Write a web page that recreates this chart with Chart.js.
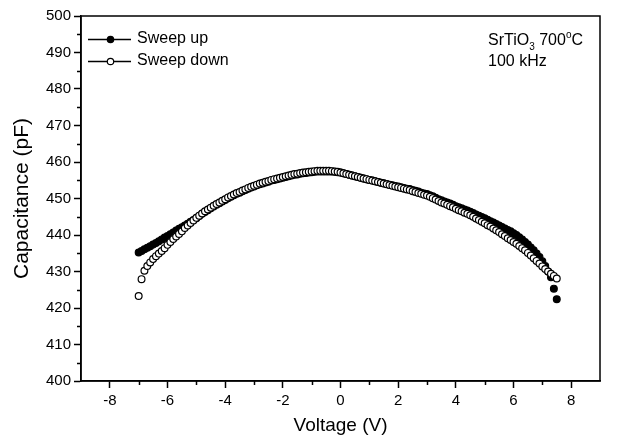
<!DOCTYPE html>
<html>
<head>
<meta charset="utf-8">
<script src="https://cdn.jsdelivr.net/npm/chart.js@4.4.1/dist/chart.umd.min.js"></script>
<style>
  html, body { margin: 0; padding: 0; background: #fff; }
  #wrap { width: 622px; height: 443px; }
</style>
</head>
<body>
<div id="wrap"><canvas id="cvChart"></canvas></div>
<script>
// voltage steps (V)
var voltage = [
  -7.0, -6.9, -6.8, -6.7, -6.6, -6.5, -6.4, -6.3, -6.2, -6.1,
  -6.0, -5.9, -5.8, -5.7, -5.6, -5.5, -5.4, -5.3, -5.2, -5.1,
  -5.0, -4.9, -4.8, -4.7, -4.6, -4.5, -4.4, -4.3, -4.2, -4.1,
  -4.0, -3.9, -3.8, -3.7, -3.6, -3.5, -3.4, -3.3, -3.2, -3.1,
  -3.0, -2.9, -2.8, -2.7, -2.6, -2.5, -2.4, -2.3, -2.2, -2.1,
  -2.0, -1.9, -1.8, -1.7, -1.6, -1.5, -1.4, -1.3, -1.2, -1.1,
  -1.0, -0.9, -0.8, -0.7, -0.6, -0.5, -0.4, -0.3, -0.2, -0.1,
  0.0, 0.1, 0.2, 0.3, 0.4, 0.5, 0.6, 0.7, 0.8, 0.9,
  1.0, 1.1, 1.2, 1.3, 1.4, 1.5, 1.6, 1.7, 1.8, 1.9,
  2.0, 2.1, 2.2, 2.3, 2.4, 2.5, 2.6, 2.7, 2.8, 2.9,
  3.0, 3.1, 3.2, 3.3, 3.4, 3.5, 3.6, 3.7, 3.8, 3.9,
  4.0, 4.1, 4.2, 4.3, 4.4, 4.5, 4.6, 4.7, 4.8, 4.9,
  5.0, 5.1, 5.2, 5.3, 5.4, 5.5, 5.6, 5.7, 5.8, 5.9,
  6.0, 6.1, 6.2, 6.3, 6.4, 6.5, 6.6, 6.7, 6.8, 6.9,
  7.0, 7.1, 7.2, 7.3, 7.4, 7.5
];

// capacitance (pF), filled markers
var sweepUp = [
  435.2, 435.6, 436.1, 436.5, 436.9, 437.4, 437.8, 438.3, 438.8, 439.3,
  439.7, 440.2, 440.7, 441.2, 441.7, 442.1, 442.6, 443.1, 443.6, 444.1,
  444.6, 445.2, 445.8, 446.3, 446.8, 447.3, 447.8, 448.3, 448.7, 449.2,
  449.6, 450.1, 450.5, 450.9, 451.3, 451.6, 452.0, 452.3, 452.7, 453.0,
  453.3, 453.6, 453.9, 454.1, 454.4, 454.6, 454.9, 455.1, 455.3, 455.5,
  455.7, 455.9, 456.1, 456.3, 456.5, 456.6, 456.8, 456.9, 457.0, 457.1,
  457.2, 457.3, 457.4, 457.4, 457.4, 457.4, 457.4, 457.4, 457.3, 457.2,
  457.1, 456.9, 456.7, 456.5, 456.3, 456.1, 455.9, 455.7, 455.5, 455.3,
  455.1, 454.9, 454.7, 454.5, 454.3, 454.2, 454.0, 453.8, 453.6, 453.4,
  453.3, 453.1, 452.9, 452.7, 452.6, 452.3, 452.1, 451.9, 451.6, 451.4,
  451.2, 450.9, 450.6, 450.2, 449.8, 449.5, 449.2, 448.9, 448.6, 448.3,
  447.9, 447.6, 447.3, 447.0, 446.7, 446.4, 446.0, 445.6, 445.3, 444.9,
  444.6, 444.2, 443.8, 443.4, 443.0, 442.6, 442.2, 441.8, 441.4, 441.0,
  440.5, 440.0, 439.4, 438.8, 438.1, 437.4, 436.6, 435.8, 434.9, 434.0,
  432.8, 431.5, 430.0, 428.4, 425.3, 422.4
];

// capacitance (pF), open markers
var sweepDown = [
  423.3, 427.9, 430.2, 431.5, 432.5, 433.4, 434.2, 434.9, 435.6, 436.4,
  437.3, 438.1, 438.9, 439.6, 440.3, 441.0, 441.9, 442.6, 443.3, 444.0,
  444.7, 445.3, 445.9, 446.5, 447.0, 447.5, 448.0, 448.5, 448.9, 449.4,
  449.8, 450.3, 450.7, 451.1, 451.5, 451.8, 452.2, 452.5, 452.9, 453.2,
  453.5, 453.8, 454.1, 454.3, 454.6, 454.8, 455.1, 455.3, 455.5, 455.7,
  455.9, 456.1, 456.3, 456.5, 456.7, 456.8, 457.0, 457.1, 457.2, 457.3,
  457.4, 457.5, 457.6, 457.6, 457.6, 457.6, 457.6, 457.5, 457.4, 457.3,
  457.1, 456.9, 456.7, 456.5, 456.3, 456.1, 455.9, 455.7, 455.5, 455.3,
  455.1, 454.9, 454.7, 454.5, 454.3, 454.1, 453.9, 453.7, 453.5, 453.3,
  453.1, 452.9, 452.7, 452.5, 452.3, 452.0, 451.8, 451.5, 451.3, 451.0,
  450.8, 450.5, 450.1, 449.7, 449.3, 448.9, 448.6, 448.3, 447.9, 447.6,
  447.2, 446.8, 446.5, 446.1, 445.8, 445.4, 445.0, 444.5, 444.1, 443.6,
  443.2, 442.7, 442.3, 441.8, 441.3, 440.8, 440.2, 439.7, 439.1, 438.6,
  438.1, 437.6, 437.0, 436.4, 435.8, 435.1, 434.4, 433.6, 432.9, 432.2,
  431.4, 430.7, 430.0, 429.4, 428.8, 428.1
];

var xTicks = [-8, -6, -4, -2, 0, 2, 4, 6, 8];
var xMinor = [-7, -5, -3, -1, 1, 3, 5, 7];
var yTicks = [400, 410, 420, 430, 440, 450, 460, 470, 480, 490, 500];
var yMinor = [405, 415, 425, 435, 445, 455, 465, 475, 485, 495];

var FONT = 'Arial, "Liberation Sans", Helvetica, sans-serif';

function pairs(ys) {
  return voltage.map(function (v, i) { return { x: v, y: ys[i] }; });
}

// frame, minor ticks, legend and the sample note
var extras = {
  id: 'extras',
  afterDraw: function (chart) {
    var c = chart.ctx, a = chart.chartArea;
    var xs = chart.scales.x, ys = chart.scales.y;
    c.save();
    c.strokeStyle = '#000';
    c.lineWidth = 1.5;
    c.strokeRect(a.left, a.top, a.right - a.left, a.bottom - a.top);

    c.lineWidth = 1.5;
    c.beginPath();
    xMinor.forEach(function (v) {
      var px = Math.round(xs.getPixelForValue(v)) + 0.5;
      c.moveTo(px, a.bottom);
      c.lineTo(px, a.bottom + 4);
    });
    yMinor.forEach(function (v) {
      var py = Math.round(ys.getPixelForValue(v)) + 0.5;
      c.moveTo(a.left, py);
      c.lineTo(a.left - 4, py);
    });
    c.stroke();

    // legend
    var rows = [
      { label: 'Sweep up', fill: '#000', y: 39 },
      { label: 'Sweep down', fill: '#fff', y: 61 }
    ];
    rows.forEach(function (r) {
      c.lineWidth = 1.3;
      c.beginPath();
      c.moveTo(88, r.y + 0.5);
      c.lineTo(131, r.y + 0.5);
      c.stroke();
      c.beginPath();
      c.arc(110.5, r.y + 0.5, 3.2, 0, Math.PI * 2);
      c.fillStyle = r.fill;
      c.fill();
      c.lineWidth = 1.2;
      c.stroke();
      c.fillStyle = '#000';
      c.font = '16px ' + FONT;
      c.textBaseline = 'middle';
      c.textAlign = 'left';
      c.fillText(r.label, 137, r.y);
    });

    // note
    c.font = '16px ' + FONT;
    c.textBaseline = 'middle';
    var x0 = 488, y0 = 41;
    c.fillText('SrTiO', x0, y0);
    var w = c.measureText('SrTiO').width;
    c.font = '10px ' + FONT;
    c.fillText('3', x0 + w, y0 + 6);
    var w2 = c.measureText('3').width;
    c.font = '16px ' + FONT;
    c.fillText(' 700', x0 + w + w2, y0);
    var w3 = c.measureText(' 700').width;
    c.font = '10px ' + FONT;
    c.fillText('o', x0 + w + w2 + w3, y0 - 6);
    var w4 = c.measureText('o').width;
    c.font = '16px ' + FONT;
    c.fillText('C', x0 + w + w2 + w3 + w4, y0);
    c.fillText('100 kHz', x0, 62);
    c.restore();
  }
};

var ctx = document.getElementById('cvChart').getContext('2d');

var data = {
  datasets: [
    {
      label: 'Sweep down',
      data: pairs(sweepDown),
      showLine: false,
      pointRadius: 3.4,
      pointBorderWidth: 1.2,
      pointBackgroundColor: '#fff',
      pointBorderColor: '#000',
      order: 0
    },
    {
      label: 'Sweep up',
      data: pairs(sweepUp),
      showLine: false,
      pointRadius: 3.4,
      pointBorderWidth: 1.2,
      pointBackgroundColor: '#000',
      pointBorderColor: '#000',
      order: 1
    }
  ]
};

var options = {
  responsive: true,
  maintainAspectRatio: false,
  animation: false,
  layout: { padding: { top: 16, right: 22, left: 0, bottom: 0 } },
  plugins: { legend: { display: false }, tooltip: { enabled: false } },
  scales: {
    x: {
      type: 'linear',
      min: -9,
      max: 9,
      afterBuildTicks: function (s) { s.ticks = xTicks.map(function (v) { return { value: v }; }); },
      afterFit: function (s) { s.height = 62; },
      grid: { drawOnChartArea: false, drawTicks: true, tickLength: 7, tickColor: '#000', tickWidth: 1.5 },
      border: { display: true, color: '#000', width: 1.5 },
      ticks: { color: '#000', font: { family: FONT, size: 15 }, padding: 4, maxRotation: 0 },
      title: { display: true, text: 'Voltage (V)', color: '#000', font: { family: FONT, size: 19 }, padding: { top: 2, bottom: 6 } }
    },
    y: {
      type: 'linear',
      min: 400,
      max: 500,
      afterBuildTicks: function (s) { s.ticks = yTicks.map(function (v) { return { value: v }; }); },
      afterFit: function (s) { s.width = 81; },
      grid: { drawOnChartArea: false, drawTicks: true, tickLength: 7, tickColor: '#000', tickWidth: 1.5 },
      border: { display: true, color: '#000', width: 1.5 },
      ticks: { color: '#000', font: { family: FONT, size: 15 }, padding: 3 },
      title: { display: true, text: 'Capacitance (pF)', color: '#000', font: { family: FONT, size: 21 }, padding: { top: 10, bottom: 4 } }
    }
  }
};

var cvChart = new Chart(ctx, {
  type: 'scatter',
  data: data,
  options: options,
  plugins: [extras]
});
</script>
</body>
</html>
